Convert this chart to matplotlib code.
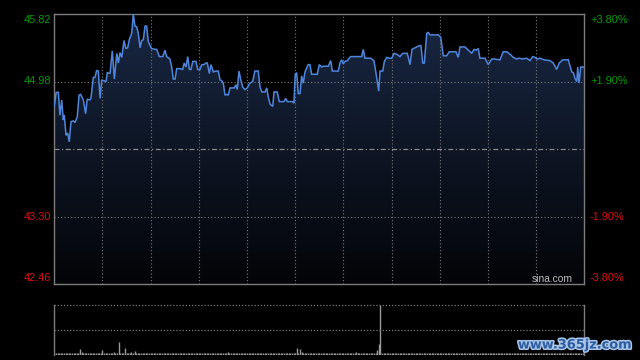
import matplotlib
matplotlib.use('Agg')
import matplotlib.pyplot as plt
import matplotlib.transforms as mtransforms
import matplotlib.patheffects as pe
from matplotlib.patches import Polygon
import numpy as np

plt.rcParams['font.family'] = ['Liberation Sans', 'DejaVu Sans']

# ---------------- data ----------------
prev_close = 44.14
price_min, price_max = 42.46, 45.82
price_ticks = [45.82, 44.98, 43.30, 42.46]
price_tick_labels = ['45.82', '44.98', '43.30', '42.46']
pct_labels = ['+3.80%', '+1.90%', '-1.90%', '-3.80%']
session_minutes = 330          # HK session 9:30-12:00, 13:00-16:00
grid_step = 30

minutes = [
    0, 1.1, 2.5, 3.5, 4.6, 5.6, 6.2, 7.3, 8.3, 9.3,
    10.4, 11.8, 12.9, 14.3, 15.4, 16.4, 18.1, 19.5, 20.5, 22.2,
    22.8, 24.3, 25.3, 26.4, 27.4, 28.5, 29.5, 30.9, 32.2, 33.0,
    34.7, 36.1, 37.4, 38.9, 39.9, 40.9, 42.0, 43.4, 44.5, 45.7,
    46.7, 48.2, 49.2, 50.2, 51.3, 52.3, 53.4, 54.4, 55.4, 56.5,
    57.5, 58.5, 59.6, 60.6, 62.7, 63.8, 65.4, 67.5, 68.9, 70.0,
    72.0, 73.1, 74.1, 75.2, 76.2, 78.3, 79.9, 80.9, 82.0, 83.1,
    84.1, 85.1, 86.2, 88.2, 89.3, 90.7, 91.8, 93.2, 94.4, 95.3,
    96.5, 97.6, 99.0, 100.7, 102.1, 103.2, 104.2, 105.2, 106.3, 107.3,
    108.3, 109.4, 111.1, 112.1, 113.1, 113.9, 115.0, 116.1, 117.3, 118.7,
    120.1, 121.8, 123.5, 124.9, 127.0, 128.1, 129.2, 131.2, 132.3, 133.2,
    134.3, 136.0, 136.8, 138.8, 140.1, 143.0, 144.1, 145.1, 148.4, 149.2,
    150.0, 150.9, 151.9, 153.0, 154.0, 155.0, 156.1, 158.1, 159.2, 160.2,
    163.7, 165.0, 166.5, 167.5, 170.6, 172.1, 173.1, 176.8, 177.9, 178.9,
    179.9, 181.0, 182.4, 184.5, 191.4, 192.4, 193.4, 197.0, 199.0, 200.1,
    201.1, 202.0, 202.8, 204.5, 205.5, 207.0, 208.4, 210.1, 211.5, 213.2,
    215.2, 216.9, 219.8, 221.5, 222.7, 224.6, 226.6, 228.3, 229.4, 230.4,
    231.9, 232.9, 233.9, 239.1, 240.6, 242.2, 244.3, 245.9, 250.1, 251.5,
    252.6, 255.7, 257.8, 259.9, 261.3, 262.6, 264.0, 265.0, 268.2, 270.2,
    272.3, 273.8, 277.5, 279.5, 281.7, 283.7, 285.8, 287.9, 289.5, 291.6,
    294.1, 296.2, 297.9, 299.3, 300.7, 302.4, 304.9, 308.6, 310.7, 312.8,
    314.4, 316.6, 320.0, 322.2, 323.2, 324.2, 325.3, 325.9, 326.7, 327.8, 330.0,
]
prices = [
    44.67, 44.84, 44.85, 44.56, 44.75, 44.50, 44.56, 44.31, 44.34, 44.23,
    44.48, 44.49, 44.47, 44.54, 44.81, 44.82, 44.75, 44.58, 44.76, 44.75,
    44.77, 45.03, 45.03, 45.12, 45.11, 44.77, 45.00, 44.99, 44.98, 45.09,
    45.08, 45.36, 45.01, 45.33, 45.21, 45.34, 45.28, 45.49, 45.39, 45.40,
    45.50, 45.58, 45.82, 45.67, 45.66, 45.58, 45.40, 45.49, 45.50, 45.67,
    45.67, 45.48, 45.43, 45.39, 45.38, 45.38, 45.29, 45.29, 45.37, 45.29,
    45.26, 45.16, 45.01, 45.01, 45.14, 45.14, 45.13, 45.21, 45.16, 45.29,
    45.13, 45.13, 45.23, 45.23, 45.13, 45.13, 45.19, 45.19, 45.21, 45.21,
    45.08, 45.19, 45.10, 45.11, 45.11, 45.00, 44.99, 44.96, 44.81, 44.82,
    44.81, 44.90, 44.90, 44.90, 44.94, 44.88, 45.11, 45.00, 44.91, 44.88,
    44.90, 44.96, 44.98, 45.11, 45.11, 44.91, 44.85, 44.85, 44.90, 44.79,
    44.70, 44.67, 44.85, 44.85, 44.73, 44.73, 44.77, 44.73, 44.73, 44.71,
    45.07, 45.09, 44.83, 44.83, 45.05, 44.96, 45.10, 45.19, 45.19, 45.07,
    45.07, 45.19, 45.16, 45.17, 45.17, 45.24, 45.11, 45.11, 45.21, 45.25,
    45.20, 45.23, 45.24, 45.29, 45.29, 45.38, 45.27, 45.27, 45.24, 45.11,
    44.98, 44.86, 45.11, 45.11, 45.23, 45.28, 45.27, 45.27, 45.33, 45.32,
    45.29, 45.33, 45.33, 45.19, 45.38, 45.40, 45.42, 45.43, 45.21, 45.21,
    45.58, 45.59, 45.56, 45.56, 45.53, 45.30, 45.30, 45.35, 45.35, 45.28,
    45.41, 45.41, 45.37, 45.33, 45.38, 45.37, 45.39, 45.27, 45.27, 45.19,
    45.26, 45.26, 45.25, 45.35, 45.35, 45.32, 45.28, 45.26, 45.27, 45.26,
    45.27, 45.24, 45.29, 45.28, 45.26, 45.27, 45.25, 45.24, 45.21, 45.13,
    45.21, 45.25, 45.25, 45.10, 45.09, 45.02, 44.98, 45.16, 44.96, 45.16, 45.16,
]

# volume (relative units; panel top = vol_max)
vol_max = 50
base_volume = 2.0
vol_minutes = [16, 17, 30, 37, 40, 44, 48, 50, 55, 62, 106, 108,
               151, 153, 154, 188, 201, 202, 203, 224, 280]
vol_values = [6, 3, 5, 3, 13, 7, 3, 4, 2.5, 2.5, 2.5, 3.5,
              7, 6, 3, 3, 5, 11, 50, 2.5, 2.5]

# ---------------- styling ----------------
BG = 'black'
BORDER = '#7c7c7c'
GRID = '#7a7a7a'
LINE = '#4f86dc'
GREEN = '#009a00'
RED = '#d81010'

fig = plt.figure(figsize=(6.4, 3.6), dpi=100, facecolor=BG)
W, H = 640, 360
L, R = 54.3, 584.3
ax = fig.add_axes([L / W, 1 - 284 / H, (R - L) / W, (284 - 14) / H])
ax.set_facecolor(BG)

# grid
for t in range(grid_step, session_minutes, grid_step):
    ax.axvline(t, color=GRID, lw=0.8, ls=(0, (1, 2)), zorder=2)
for p in price_ticks[1:3]:
    ax.axhline(p, color=GRID, lw=0.8, ls=(0, (1, 2)), zorder=2)
ax.axhline(prev_close, color='#8a8a8a', lw=0.9, ls=(0, (4, 2, 1, 2)), zorder=2)

# gradient area fill
verts = [(minutes[0], price_min)] + list(zip(minutes, prices)) + [(minutes[-1], price_min)]
poly = Polygon(verts, closed=True, facecolor='none', edgecolor='none')
ax.add_patch(poly)
top_c = np.array([0.095, 0.155, 0.265])
bot_c = np.array([0.012, 0.016, 0.025])
f = np.linspace(1, 0, 256).reshape(-1, 1, 1)
img = bot_c + (top_c - bot_c) * f
img = np.repeat(img, 2, axis=1)
im = ax.imshow(img, extent=[0, session_minutes, price_min, price_max],
               aspect='auto', origin='upper', zorder=1, interpolation='bilinear')
im.set_clip_path(poly)

ax.plot(minutes, prices, color=LINE, lw=1.1, zorder=3, solid_joinstyle='miter')

ax.set_xlim(0, session_minutes)
ax.set_ylim(price_min, price_max)
ax.set_xticks([])
ax.set_yticks([])
for s in ax.spines.values():
    s.set_color(BORDER)
    s.set_linewidth(1.0)

# price labels
blend = mtransforms.blended_transform_factory(ax.transAxes, ax.transData)
offsets = [-4.5, 0, 0, 4.5]
for p, lab, pct, dy in zip(price_ticks, price_tick_labels, pct_labels, offsets):
    col = GREEN if p > prev_close else RED
    ax.annotate(lab, xy=(0, p), xycoords=blend, xytext=(-2.4, dy),
                textcoords='offset points', ha='right', va='center',
                fontsize=7.9, color=col, annotation_clip=False)
    ax.annotate(pct, xy=(1, p), xycoords=blend, xytext=(4.1, dy),
                textcoords='offset points', ha='left', va='center',
                fontsize=7.9, color=col, annotation_clip=False)

ax.text(0.940, 0.018, 'sina.com', transform=ax.transAxes, ha='center',
        va='center', fontsize=7.4, color='#bdbdbd', zorder=4)

# ---------------- volume panel ----------------
vax = fig.add_axes([L / W, 1 - 355 / H, (R - L) / W, (355 - 305) / H])
vax.set_facecolor(BG)
vol = np.full(session_minutes + 1, base_volume)
vol[vol_minutes] = vol_values
vax.vlines(np.arange(session_minutes + 1), 0, vol, color='#9a9a9a', lw=1.0)
vax.set_xlim(0, session_minutes)
vax.set_ylim(0, vol_max)
vax.axhline(vol_max, color=GRID, lw=0.9, ls=(0, (1, 1.5)), clip_on=False)
vax.axhline(vol_max / 2, color=GRID, lw=0.9, ls=(0, (1, 1.5)))
vax.set_xticks([])
vax.set_yticks([])
for k in ('top', 'bottom'):
    vax.spines[k].set_visible(False)
for k in ('left', 'right'):
    vax.spines[k].set_color(BORDER)
    vax.spines[k].set_linewidth(1.0)

# watermark
fig.text(574.5 / W, 1 - 345 / H, 'www.365jz.com', ha='center', va='center',
         fontsize=9.3, fontweight='bold', color='#2c5c9e', family='DejaVu Sans',
         path_effects=[pe.withStroke(linewidth=2.2, foreground='#a9c5ea')])

fig.savefig('out.png', dpi=100, facecolor=BG)
